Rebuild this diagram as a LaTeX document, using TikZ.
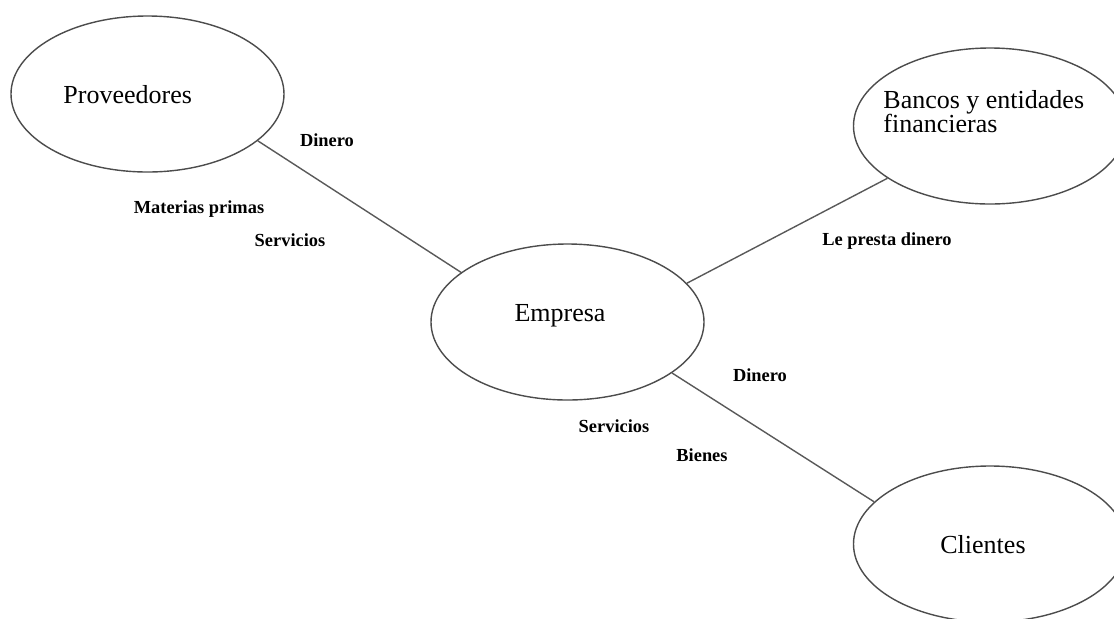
\documentclass[tikz,border=0pt]{standalone}
\usepackage{fontspec}
\setmainfont{Liberation Serif}
\usetikzlibrary{shapes,positioning}

\begin{document}
\begin{tikzpicture}[x=0.5pt,y=-0.5pt]
	\tikzstyle{Oval}	= [ellipse, draw=black!70, line width=0.7pt, minimum width=136.5pt, minimum height=78pt, inner sep=0pt]
	\tikzstyle{Name}	= [inner sep=0pt, font=\fontsize{13}{12}\selectfont]
	\tikzstyle{Flow}	= [inner sep=0pt, anchor=base, font=\bfseries\fontsize{9.2}{11}\selectfont]
	\tikzstyle{Link}	= [black!65, line width=0.7pt]

	\useasboundingbox (0,0) rectangle (1114,618);

	% the four actors
	\node (prov) at (147.5,94) [Oval] {};
	\node (emp) at (567.5,322) [Oval] {};
	\node (bancos) at (990,126) [Oval] {};
	\node (clientes) at (990,544) [Oval] {};

	\node (provText) at (63,103) [Name][anchor=base west] {Proveedores};
	\node (empText) at (560,321) [Name][anchor=base] {Empresa};
	\node (bancosText) at (883,90) [Name][anchor=north west, align=left] {Bancos y entidades\\financieras};
	\node (clientesText) at (983,553) [Name][anchor=base] {Clientes};

	% what flows along each link
	\node (dinero1) at (327,146) [Flow] {Dinero};
	\node (materias) at (199,213) [Flow] {Materias primas};
	\node (servicios1) at (290,246) [Flow] {Servicios};
	\node (presta) at (887,245) [Flow] {Le presta dinero};
	\node (dinero2) at (760,381) [Flow] {Dinero};
	\node (servicios2) at (614,432) [Flow] {Servicios};
	\node (bienes) at (702,461) [Flow] {Bienes};

	\draw [-] (prov.-23) to (emp.155.5) [Link];
	\draw [-] (bancos.207) to (emp.18) [Link];
	\draw [-] (emp.-26) to (clientes.160) [Link];
\end{tikzpicture}
\end{document}
